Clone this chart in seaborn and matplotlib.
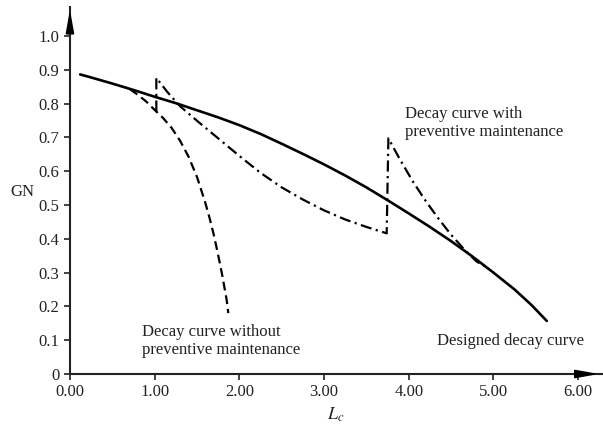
import numpy as np
import pandas as pd
import matplotlib
matplotlib.use('Agg')
import matplotlib.pyplot as plt
import seaborn as sns

# designed decay curve (solid)
design_x = [0.12, 0.25, 0.5, 0.75, 1.0, 1.25, 1.5, 1.75, 2.0, 2.25, 2.5, 2.75, 3.0, 3.25,
            3.5, 3.75, 4.0, 4.25, 4.5, 4.75, 5.0, 5.25, 5.45, 5.63]
design_y = [0.886, 0.877, 0.859, 0.840, 0.820, 0.801, 0.780, 0.759, 0.736, 0.710, 0.681, 0.651,
            0.620, 0.587, 0.552, 0.514, 0.475, 0.435, 0.393, 0.348, 0.300, 0.250, 0.204, 0.157]

# without preventive maintenance (dashed)
nopm_x = [0.71, 0.8, 0.9, 1.0, 1.1, 1.2, 1.3, 1.4, 1.5, 1.6, 1.65, 1.7, 1.75, 1.8, 1.85, 1.87]
nopm_y = [0.842, 0.826, 0.806, 0.781, 0.757, 0.728, 0.690, 0.643, 0.583, 0.505, 0.460, 0.410,
          0.352, 0.290, 0.220, 0.180]

# with preventive maintenance (dash-dot)
pm_x = [1.02, 1.02, 1.15, 1.3, 1.5, 1.75, 2.0, 2.25, 2.5, 2.75, 3.0, 3.25, 3.5, 3.74,
        3.76, 3.9, 4.05, 4.2, 4.35, 4.5, 4.65, 4.8, 4.9]
pm_y = [0.776, 0.876, 0.834, 0.792, 0.749, 0.697, 0.645, 0.595, 0.552, 0.516, 0.484, 0.457,
        0.435, 0.416, 0.697, 0.633, 0.569, 0.512, 0.460, 0.412, 0.370, 0.333, 0.318]

xticks = [0, 1, 2, 3, 4, 5, 6]
xtick_labels = ['0.00', '1.00', '2.00', '3.00', '4.00', '5.00', '6.00']
yticks = [0, 0.1, 0.2, 0.3, 0.4, 0.5, 0.6, 0.7, 0.8, 0.9, 1.0]
ytick_labels = ['0', '0.1', '0.2', '0.3', '0.4', '0.5', '0.6', '0.7', '0.8', '0.9', '1.0']

sns.set_style('ticks')
plt.rcParams['font.family'] = ['Liberation Serif', 'DejaVu Serif']
plt.rcParams['mathtext.fontset'] = 'stix'

fig = plt.figure(figsize=(6.03, 4.25), dpi=100)
ax = fig.add_axes([0.116, 0.12, 0.882, 0.864])

design = pd.DataFrame({'x': design_x, 'y': design_y})
nopm = pd.DataFrame({'x': nopm_x, 'y': nopm_y})
pm = pd.DataFrame({'x': pm_x, 'y': pm_y})

sns.lineplot(data=design, x='x', y='y', sort=False, estimator=None, color='black', lw=1.9, ax=ax)
sns.lineplot(data=nopm, x='x', y='y', sort=False, estimator=None, color='black', lw=1.6,
             linestyle=(0, (4, 2.2)), ax=ax)
sns.lineplot(data=pm, x='x', y='y', sort=False, estimator=None, color='black', lw=1.6,
             linestyle=(0, (5, 2, 1, 2)), ax=ax)

ax.set_xlim(0, 6.28)
ax.set_ylim(0, 1.086)
ax.set_xticks(xticks)
ax.set_xticklabels(xtick_labels)
ax.set_yticks(yticks)
ax.set_yticklabels(ytick_labels)
ax.tick_params(labelsize=12, length=4, width=1.2, color='#222222', labelcolor='#222222')
sns.despine(ax=ax)
for s in ['left', 'bottom']:
    ax.spines[s].set_linewidth(1.5)
    ax.spines[s].set_color('#222222')

# arrow heads on the axes
ax.annotate('', xy=(1.0, 0), xycoords='axes fraction', xytext=(0.95, 0),
            arrowprops=dict(arrowstyle='-|>,head_length=1.4,head_width=0.25', color='black', lw=1.2))
ax.annotate('', xy=(0, 1.0), xycoords='axes fraction', xytext=(0, 0.93),
            arrowprops=dict(arrowstyle='-|>,head_length=1.4,head_width=0.25', color='black', lw=1.2))

ax.set_xlabel(r'$L_c$', fontsize=13, color='#222222', labelpad=4)
ax.set_ylabel('GN', fontsize=12, rotation=0, color='#222222')
ax.yaxis.set_label_coords(-0.09, 0.475)

ax.text(3.96, 0.743, 'Decay curve with\npreventive maintenance', fontsize=12,
        va='center', ha='left', color='#222222', linespacing=1.2)
ax.text(0.846, 0.098, 'Decay curve without\npreventive maintenance', fontsize=12,
        va='center', ha='left', color='#222222', linespacing=1.2)
ax.text(4.33, 0.097, 'Designed decay curve', fontsize=12,
        va='center', ha='left', color='#222222')

fig.savefig('out.png', dpi=100)
